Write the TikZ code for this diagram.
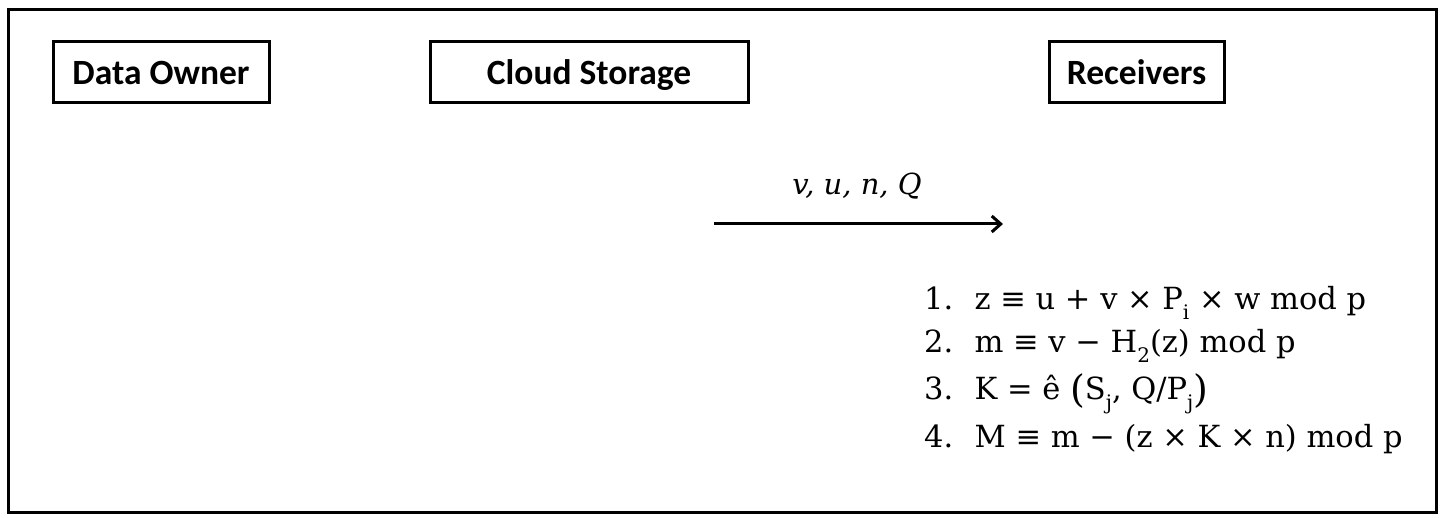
\documentclass[tikz,border=0pt]{standalone}
\usepackage{fontspec}
\setmainfont{DejaVu Serif}
\newfontfamily\labelfont{Carlito}
\usetikzlibrary{arrows.meta}
\begin{document}
\begin{tikzpicture}[x=1pt,y=-1pt,
  actor/.style={draw,line width=3pt,minimum height=61pt,font=\labelfont\bfseries\fontsize{35.5}{42}\selectfont,inner sep=0pt,text height=25pt,text depth=0pt},
  eq/.style={font=\fontsize{30.5}{36}\selectfont,anchor=base west,inner sep=0pt}]
\newcommand{\sbs}[1]{\raisebox{-0.3em}{\fontsize{20}{20}\selectfont #1}}
\useasboundingbox (0,0) rectangle (1446,518);
\draw[line width=3pt] (8,10) rectangle (1436,512);
\node[actor,minimum width=216pt] (owner) at (161,72.5) {Data Owner};
\node[actor,minimum width=318pt] (cloud) at (589,72.5) {Cloud Storage};
\node[actor,minimum width=175pt] (recv) at (1136.5,72.5) {Receivers};
\coordinate (a1) at (714,224);
\coordinate (a2) at (1003,224);
\draw[line width=3pt,-{Straight Barb[length=9pt,width=16pt]}] (a1) -- (a2);
\node[font=\fontsize{29}{36}\selectfont\itshape,inner sep=0pt,anchor=base] (lbl) at (857,195) {v, u, n, Q};
\node[eq] (e1) at (924,310) {1.\hspace{0.7em}z ≡ u + v × P\sbs{i} × w mod p};
\node[eq] (e2) at (924,353) {2.\hspace{0.7em}m ≡ v − H\sbs{2}(z) mod p};
\node[eq] (e3) at (924,400) {3.\hspace{0.7em}K = ê \raisebox{-0.08em}{\fontsize{38}{38}\selectfont(}S\sbs{j}, Q/P\sbs{j}\raisebox{-0.08em}{\fontsize{38}{38}\selectfont)}};
\node[eq] (e4) at (924,447) {4.\hspace{0.7em}M ≡ m − (z × K × n) mod p};
\end{tikzpicture}
\end{document}
